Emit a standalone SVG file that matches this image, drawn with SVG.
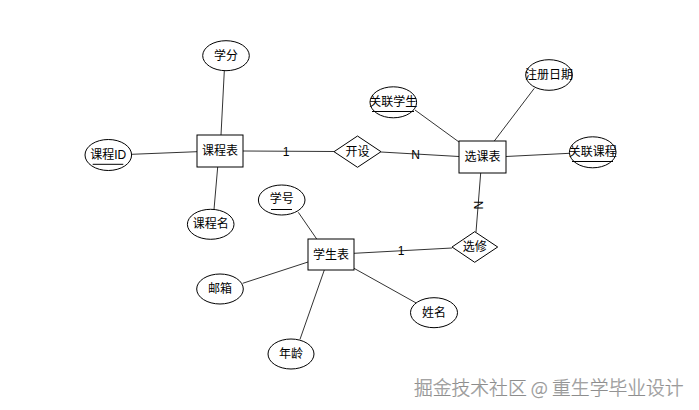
<svg xmlns="http://www.w3.org/2000/svg" width="699" height="410" viewBox="0 0 699 410">
<style>
.s{fill:#fff;stroke:#000;stroke-width:1}
.t{font-family:"Liberation Sans","Noto Sans CJK SC",sans-serif;font-size:12px;fill:#000;text-anchor:middle;dominant-baseline:central}
.c line{stroke:#333;stroke-width:1}
.u{stroke:#000;stroke-width:1}
.w{font-family:"Noto Sans CJK SC",sans-serif;font-size:18.8px;font-weight:300;fill:#a8a8a8;stroke:#777;stroke-width:0.25;text-anchor:start;dominant-baseline:central}
</style>
<rect width="699" height="410" fill="#fff"/>
<g class="c" id="connectors">
<line x1="224.3" y1="71" x2="221" y2="135"/>
<line x1="131.7" y1="154.3" x2="197" y2="151.7"/>
<line x1="217.7" y1="167" x2="214" y2="209.5"/>
<line x1="243" y1="151" x2="334" y2="151.5"/>
<line x1="381" y1="152" x2="459" y2="156.5"/>
<line x1="415" y1="110" x2="459" y2="142"/>
<line x1="534.3" y1="88.3" x2="494.3" y2="141"/>
<line x1="506" y1="156.5" x2="569.5" y2="153.3"/>
<line x1="480.7" y1="173" x2="476" y2="232"/>
<line x1="354" y1="253.3" x2="452" y2="248"/>
<line x1="298.3" y1="212.3" x2="316.7" y2="239"/>
<line x1="242.7" y1="283.3" x2="308" y2="262"/>
<line x1="324.3" y1="270" x2="300" y2="339.3"/>
<line x1="354" y1="268.3" x2="416.7" y2="303.3"/>
</g>
<g id="labels">
<text class="t" x="286" y="151.5">1</text>
<text class="t" x="415.7" y="155">N</text>
<text class="t" x="478" y="205" transform="rotate(90 478 205)">N</text>
<text class="t" x="401" y="250.5">1</text>
</g>
<g id="course"><rect class="s" x="197" y="135" width="46" height="32"/><text class="t" x="220" y="151">课程表</text></g>
<g id="credit"><ellipse class="s" cx="226" cy="55.7" rx="23.3" ry="15"/><text class="t" x="226" y="55.7">学分</text></g>
<g id="courseId"><ellipse class="s" cx="108.3" cy="155" rx="23.3" ry="15.5"/><text class="t" x="108.3" y="155">课程ID</text><line class="u" x1="92.7" y1="164.3" x2="123.3" y2="164.3"/></g>
<g id="courseName"><ellipse class="s" cx="210.7" cy="224.3" rx="23.3" ry="15"/><text class="t" x="210.7" y="224.3">课程名</text></g>
<g id="offer"><polygon class="s" points="334,151.7 357.5,136 381,151.7 357.5,167.3"/><text class="t" x="357.5" y="151.7">开设</text></g>
<g id="selection"><rect class="s" x="459" y="141" width="47" height="32"/><text class="t" x="482.5" y="157">选课表</text></g>
<g id="relStudent"><ellipse class="s" cx="393.3" cy="102.3" rx="23.3" ry="15.5"/><text class="t" x="393.3" y="102.3">关联学生</text><line class="u" x1="372" y1="111.5" x2="414" y2="111.5"/></g>
<g id="regDate"><ellipse class="s" cx="549" cy="75" rx="23.3" ry="15.3"/><text class="t" x="549" y="75">注册日期</text></g>
<g id="relCourse"><ellipse class="s" cx="592.7" cy="152.3" rx="23.3" ry="15.5"/><text class="t" x="592.7" y="152.3">关联课程</text><line class="u" x1="572" y1="161.5" x2="613" y2="161.5"/></g>
<g id="enroll"><polygon class="s" points="452,247 474.7,231.7 497.7,247 474.7,262.3"/><text class="t" x="474.7" y="247">选修</text></g>
<g id="student"><rect class="s" x="308" y="239" width="46" height="31"/><text class="t" x="331" y="254.5">学生表</text></g>
<g id="studentNo"><ellipse class="s" cx="281.7" cy="200" rx="23.3" ry="15"/><text class="t" x="281.7" y="199">学号</text><line class="u" x1="271" y1="209.5" x2="292" y2="209.5"/></g>
<g id="email"><ellipse class="s" cx="220" cy="289" rx="23.3" ry="15"/><text class="t" x="220" y="289">邮箱</text></g>
<g id="name"><ellipse class="s" cx="434" cy="312.7" rx="23.5" ry="15"/><text class="t" x="434" y="312.7">姓名</text></g>
<g id="age"><ellipse class="s" cx="291" cy="354" rx="23" ry="15"/><text class="t" x="291" y="354">年龄</text></g>
<text class="w" x="414" y="386">掘金技术社区 @ 重生学毕业设计</text>
</svg>
